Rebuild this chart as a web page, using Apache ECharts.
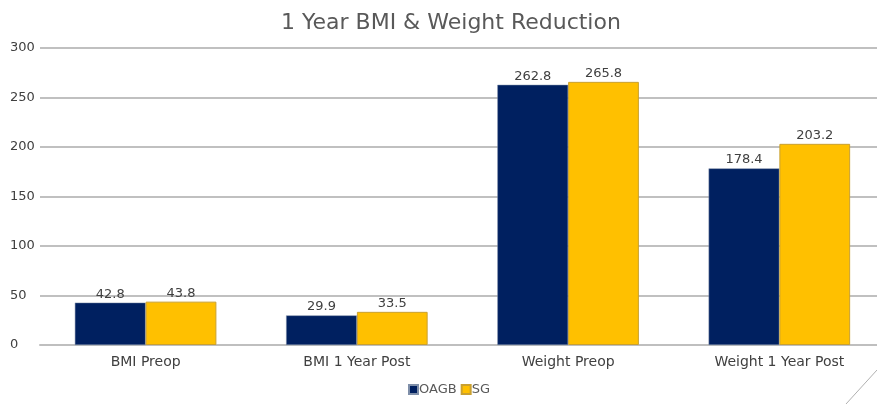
<!DOCTYPE html>
<html>
<head>
<meta charset="utf-8">
<script src="https://cdn.jsdelivr.net/npm/echarts@6/dist/echarts.min.js"></script>
<style>
  html, body { margin: 0; padding: 0; background: #fff; }
  #chart { width: 877px; height: 404px; }
</style>
</head>
<body>
<div id="chart"></div>
<script>
// chart data
const categories = ['BMI Preop', 'BMI 1 Year Post', 'Weight Preop', 'Weight 1 Year Post'];
const oagbValues = [42.8, 29.9, 262.8, 178.4];
const sgValues = [43.8, 33.5, 265.8, 203.2];
const seriesNames = ['OAGB', 'SG'];

const font = '"DejaVu Sans", sans-serif';
let chart = echarts.init(document.getElementById('chart'));

let labelStyle = {
  show: true,
  position: 'top',
  distance: 2,
  color: '#404040',
  fontSize: 13,
  fontFamily: font,
  formatter: p => p.value.toFixed(1)
};

let option = {
  animation: false,
  title: {
    text: '1 Year BMI & Weight Reduction',
    left: 276,
    top: 7,
    textStyle: { color: '#595959', fontSize: 22, fontWeight: 'normal', fontFamily: font }
  },
  legend: {
    bottom: 3,
    left: 403,
    itemWidth: 9,
    itemHeight: 9,
    itemGap: 4,
    icon: 'rect',
    textStyle: { color: '#595959', fontSize: 13, fontFamily: font, padding: [0, 0, 0, -4] },
    data: seriesNames
  },
  grid: { left: 40, right: -8, top: 48, bottom: 59, outerBoundsMode: 'none' },
  xAxis: {
    type: 'category',
    data: categories,
    axisTick: { show: false },
    axisLine: { lineStyle: { color: '#bfbfbf', width: 2 } },
    axisLabel: { color: '#404040', fontSize: 14, fontFamily: font, margin: 10 }
  },
  yAxis: {
    type: 'value',
    min: 0,
    max: 300,
    interval: 50,
    axisLine: { show: false },
    axisTick: { show: false },
    splitLine: { lineStyle: { color: '#c0c0c0', width: 2 } },
    axisLabel: { color: '#404040', fontSize: 13, fontFamily: font, margin: 10, align: 'left', padding: [0, 0, 0, -20] }
  },
  series: [
    {
      name: seriesNames[0],
      type: 'bar',
      data: oagbValues,
      barGap: '0%',
      barCategoryGap: '33%',
      itemStyle: { color: '#002060', borderColor: '#7f8fa9', borderWidth: 0.5 },
      label: labelStyle
    },
    {
      name: seriesNames[1],
      type: 'bar',
      data: sgValues,
      itemStyle: { color: '#ffc000', borderColor: '#c9a030', borderWidth: 1 },
      label: labelStyle
    }
  ],
  graphic: [
    {
      type: 'line',
      shape: { x1: 877, y1: 370, x2: 846, y2: 404 },
      style: { stroke: '#b0b0b0', lineWidth: 1 }
    }
  ]
};

chart.setOption(option);
</script>
</body>
</html>
